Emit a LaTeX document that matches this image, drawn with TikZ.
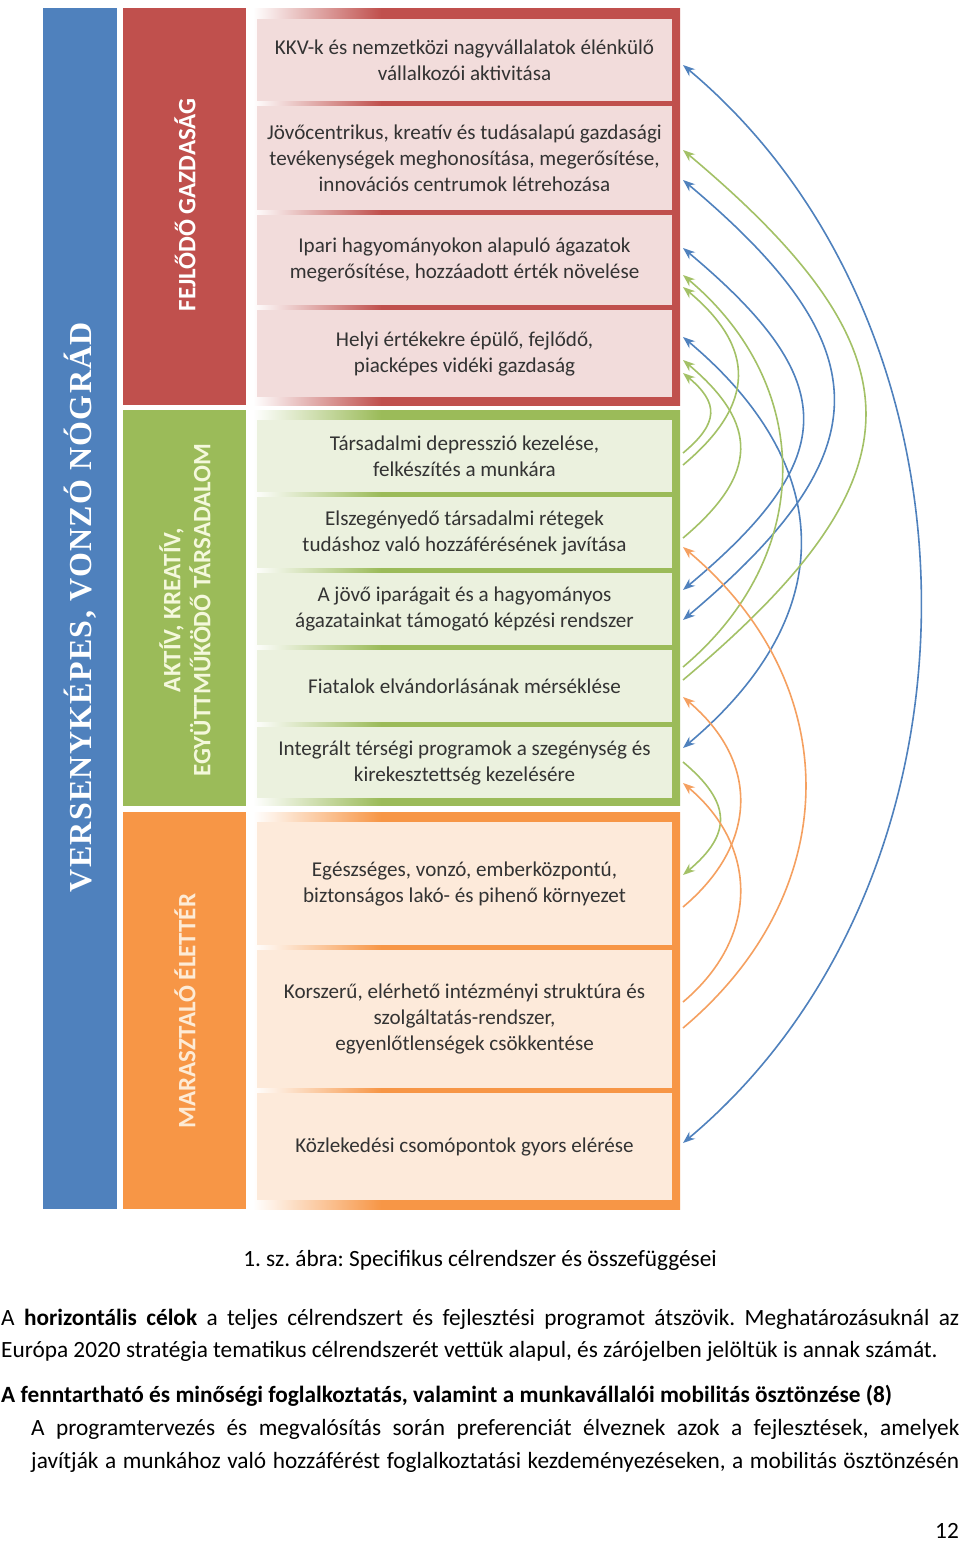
\documentclass[tikz,border=0pt]{standalone}
\usepackage{fontspec}
\setmainfont{Carlito}
\newfontfamily\titlefont[LetterSpace=4]{Liberation Serif}
\usetikzlibrary{arrows.meta}
\definecolor{cblue}{HTML}{4F81BD}
\definecolor{cred}{HTML}{C0504D}
\definecolor{cgreen}{HTML}{9BBB59}
\definecolor{corange}{HTML}{F79646}
\definecolor{pred}{HTML}{F2DCDB}
\definecolor{pgreen}{HTML}{EBF1DE}
\definecolor{porange}{HTML}{FDEADA}
\definecolor{txt}{HTML}{333333}
\definecolor{labgreen}{HTML}{F4F8DC}
\definecolor{laborange}{HTML}{FDEBD6}
\definecolor{agreen}{HTML}{A3C166}
\definecolor{aorange}{HTML}{F5A060}
\pgfdeclarehorizontalshading{fadered}{100bp}{color(0bp)=(white); color(25bp)=(white); color(40bp)=(cred); color(100bp)=(cred)}
\pgfdeclarehorizontalshading{fadegreen}{100bp}{color(0bp)=(white); color(25bp)=(white); color(40bp)=(cgreen); color(100bp)=(cgreen)}
\pgfdeclarehorizontalshading{fadeorange}{100bp}{color(0bp)=(white); color(25bp)=(white); color(40bp)=(corange); color(100bp)=(corange)}
\tikzset{
  rowbox/.style={text width=415pt, inner sep=0pt, align=flush center, text=txt, font=\fontsize{21.1}{26}\selectfont},
  vlab/.style={rotate=90, align=flush center, inner sep=0pt, font=\bfseries\fontsize{25}{30}\selectfont},
  bodytext/.style={anchor=base west, inner sep=0pt, font=\fontsize{23.3}{28}\selectfont},
  arcline/.style={line width=1.6pt, arrows={Stealth[length=12pt,width=9pt]-}},
  arcboth/.style={line width=1.6pt, arrows={Stealth[length=12pt,width=9pt]-Stealth[length=12pt,width=9pt]}},
  arcdown/.style={line width=1.6pt, arrows={-Stealth[length=12pt,width=9pt]}}
}
\frenchspacing
\begin{document}
\begin{tikzpicture}[x=1pt,y=-1pt]
\useasboundingbox (0,0) rectangle (960,1542);
\fill[white] (0,0) rectangle (960,1542);

% left bars
\fill[cblue] (43,8) rectangle (117,1209);
\fill[cred] (123,8) rectangle (246,405);
\fill[cgreen] (123,410) rectangle (246,806);
\fill[corange] (123,812) rectangle (246,1209);

\node[vlab, font=\titlefont\bfseries\fontsize{32}{36}\selectfont, text=white] (mainlab) at (80,607) {VERSENYKÉPES, VONZÓ NÓGRÁD};
\node[vlab, text=white] (lab1) at (185,205) {FEJLŐDŐ GAZDASÁG};
\node[vlab, text=labgreen] (lab2) at (185,610) {AKTÍV, KREATÍV,\\EGYÜTTMŰKÖDŐ TÁRSADALOM};
\node[vlab, text=laborange] (lab3) at (185,1011) {MARASZTALÓ ÉLETTÉR};

% frames
\shade[shading=fadered] (253,8) rectangle (680,405);
\shade[shading=fadegreen] (253,410) rectangle (680,805);
\shade[shading=fadeorange] (253,812) rectangle (680,1209);

% rows
\node[rowbox, fill=pred, minimum height=82pt] (r1) at (464.5,60) {KKV-k és nemzetközi nagyvállalatok élénkülő\\vállalkozói aktivitása};
\node[rowbox, fill=pred, minimum height=104pt] (r2) at (464.5,158) {Jövőcentrikus, kreatív és tudásalapú gazdasági\\tevékenységek meghonosítása, megerősítése,\\innovációs centrumok létrehozása};
\node[rowbox, fill=pred, minimum height=90pt] (r3) at (464.5,260) {Ipari hagyományokon alapuló ágazatok\\megerősítése, hozzáadott érték növelése};
\node[rowbox, fill=pred, minimum height=87pt] (r4) at (464.5,353.5) {Helyi értékekre épülő, fejlődő,\\piacképes vidéki gazdaság};

\node[rowbox, fill=pgreen, minimum height=72pt] (g1) at (464.5,456) {Társadalmi depresszió kezelése,\\felkészítés a munkára};
\node[rowbox, fill=pgreen, minimum height=71pt] (g2) at (464.5,532.5) {Elszegényedő társadalmi rétegek\\tudáshoz való hozzáférésének javítása};
\node[rowbox, fill=pgreen, minimum height=72pt] (g3) at (464.5,609) {A jövő iparágait és a hagyományos\\ágazatainkat támogató képzési rendszer};
\node[rowbox, fill=pgreen, minimum height=72pt] (g4) at (464.5,686) {Fiatalok elvándorlásának mérséklése};
\node[rowbox, fill=pgreen, minimum height=71pt] (g5) at (464.5,762.5) {Integrált térségi programok a szegénység és\\kirekesztettség kezelésére};

\node[rowbox, fill=porange, minimum height=123pt] (o1) at (464.5,883.5) {Egészséges, vonzó, emberközpontú,\\biztonságos lakó- és pihenő környezet};
\node[rowbox, fill=porange, minimum height=138pt] (o2) at (464.5,1019) {Korszerű, elérhető intézményi struktúra és\\szolgáltatás-rendszer,\\egyenlőtlenségek csökkentése};
\node[rowbox, fill=porange, minimum height=107pt] (o3) at (464.5,1146.5) {Közlekedési csomópontok gyors elérése};

% arc end points
\foreach \yy in {65,150,180,248,275,287,337,360,373,453,465,538,547,590,620,667,680,697,748,762,783,875,907,1002,1028,1143}
  \coordinate (e\yy) at (683,\yy);

% blue (two-way)
\draw[arcboth, cblue] (e65) .. controls (999,330) and (999,878) .. (e1143);
\draw[arcboth, cblue] (e180) .. controls (883,348) and (883,452) .. (e620);
\draw[arcboth, cblue] (e248) .. controls (842,381) and (842,457) .. (e590);
\draw[arcboth, cblue] (e337) .. controls (839,468) and (839,617) .. (e748);
% green
\draw[arcline, agreen] (e150) .. controls (926,354) and (926,476) .. (e680);
\draw[arcline, agreen] (e275) .. controls (815,386) and (815,556) .. (e667);
\draw[arcline, agreen] (e287) .. controls (756,348) and (756,404) .. (e465);
\draw[arcline, agreen] (e360) .. controls (759,424) and (759,474) .. (e538);
\draw[arcline, agreen] (e373) .. controls (719,403) and (719,423) .. (e453);
\draw[arcdown, agreen] (e762) .. controls (732,803) and (732,834) .. (e875);
% orange
\draw[arcline, aorange] (e547) .. controls (846,684) and (846,891) .. (e1028);
\draw[arcline, aorange] (e697) .. controls (759,761) and (759,843) .. (e907);
\draw[arcline, aorange] (e783) .. controls (759,847) and (759,938) .. (e1002);

% caption and text
\node[anchor=base, inner sep=0pt, font=\fontsize{23.3}{28}\selectfont] (cap) at (480,1266) {1. sz. ábra: Specifikus célrendszer és összefüggései};
\node[bodytext] (t1) at (1,1325) {\makebox[958pt][s]{A \textbf{horizontális célok} a teljes célrendszert és fejlesztési programot átszövik. Meghatározásuknál az}};
\node[bodytext] (t2) at (1,1357) {Európa 2020 stratégia tematikus célrendszerét vettük alapul, és zárójelben jelöltük is annak számát.};
\node[bodytext, font=\bfseries\fontsize{23.3}{28}\selectfont] (t3) at (1,1402) {A fenntartható és minőségi foglalkoztatás, valamint a munkavállalói mobilitás ösztönzése (8)};
\node[bodytext] (t4) at (31,1435) {\makebox[928pt][s]{A programtervezés és megvalósítás során preferenciát élveznek azok a fejlesztések, amelyek}};
\node[bodytext] (t5) at (31,1468) {\makebox[928pt][s]{javítják a munkához való hozzáférést foglalkoztatási kezdeményezéseken, a mobilitás ösztönzésén}};
\node[anchor=base east, inner sep=0pt, font=\fontsize{23.3}{28}\selectfont] (pg) at (959,1538) {12};
\end{tikzpicture}
\end{document}
